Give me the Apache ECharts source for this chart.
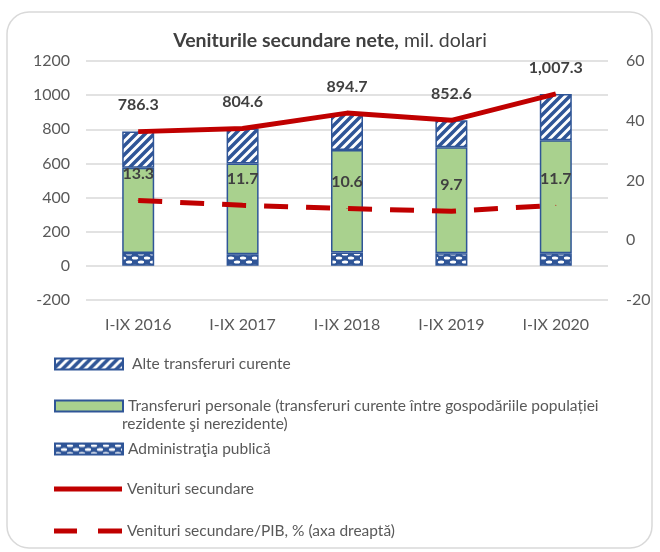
<!DOCTYPE html>
<html>
<head>
<meta charset="utf-8">
<script src="https://cdn.jsdelivr.net/npm/echarts@6/dist/echarts.min.js"></script>
<style>
  html, body { margin: 0; padding: 0; background: #fff; }
  #main { width: 660px; height: 552px; }
</style>
</head>
<body>
<div id="main"></div>
<script>
// Veniturile secundare nete, mil. dolari
var categories = ['I-IX 2016', 'I-IX 2017', 'I-IX 2018', 'I-IX 2019', 'I-IX 2020'];
var administratie = [76, 68, 78, 74, 74];
var transferuriPersonale = [498, 531, 600, 621, 662];
var alteTransferuri = [212.3, 205.6, 216.7, 157.6, 271.3];
var venituriSecundare = [786.3, 804.6, 894.7, 852.6, 1007.3];
var venituriPib = [13.3, 11.7, 10.6, 9.7, 11.7];

var leftTicks = [-200, 1200, 200];   // min, max, interval
var rightTicks = [-20, 60, 20];

var BLUE = '#2F5597';
var RED = '#C00000';
var GREY = '#595959';
var FONT = 'Lato, "Open Sans", sans-serif';

// hasura pentru "Alte transferuri curente"
function stripePattern() {
    var c = document.createElement('canvas');
    c.width = 9; c.height = 9;
    var g = c.getContext('2d');
    g.fillStyle = '#fff';
    g.fillRect(0, 0, 9, 9);
    g.strokeStyle = BLUE;
    g.lineWidth = 3.5;
    g.beginPath();
    g.moveTo(-2, 11); g.lineTo(11, -2);
    g.moveTo(-6.5, 6.5); g.lineTo(6.5, -6.5);
    g.moveTo(2.5, 15.5); g.lineTo(15.5, 2.5);
    g.stroke();
    return c;
}
// hasura pentru "Administratia publica"
function wavePattern() {
    var c = document.createElement('canvas');
    c.width = 12; c.height = 8;
    var g = c.getContext('2d');
    g.fillStyle = BLUE;
    g.fillRect(0, 0, 12, 8);
    g.fillStyle = '#fff';
    g.beginPath();
    g.ellipse(3, 2, 3.2, 1.6, 0, 0, Math.PI * 2);
    g.fill();
    g.beginPath();
    g.ellipse(9, 6, 3.2, 1.6, 0, 0, Math.PI * 2);
    g.fill();
    return c;
}

var nameAlte = 'Alte transferuri curente';
var namePers = 'Transferuri personale (transferuri curente între gospodăriile populației rezidente şi nerezidente)';
var nameAdm = 'Administraţia publică';
var nameVen = 'Venituri secundare';
var namePib = 'Venituri secundare/PIB, % (axa dreaptă)';

var myChart = echarts.init(document.getElementById('main'));

var legendText = { color: GREY, fontSize: 15.5, fontFamily: FONT };
function oneLegend(name, top, w, h, icon, fmt) {
    var l = {
        data: [icon ? { name: name, icon: icon } : name],
        left: 49, top: top,
        itemWidth: w, itemHeight: h,
        selectedMode: false,
        textStyle: legendText
    };
    if (fmt) l.formatter = fmt;
    return l;
}

var labelStyle = {
    show: true,
    position: 'top',
    distance: 18,
    color: '#404040',
    fontSize: 16,
    fontWeight: 'bold',
    fontFamily: FONT
};

var option = {
    backgroundColor: '#fff',
    animation: false,
    title: {
        text: '{b|Veniturile secundare nete,}{n| mil. dolari}',
        left: 'center',
        top: 26,
        textStyle: {
            rich: {
                b: { fontFamily: FONT, fontSize: 19.5, fontWeight: 'bold', color: '#404040' },
                n: { fontFamily: FONT, fontSize: 19.5, fontWeight: 'normal', color: '#404040' }
            }
        }
    },
    legend: [
        oneLegend(nameAlte, 351, 68, 11, 'rect', function (n) { return ' ' + n; }),
        oneLegend(namePers, 393, 68, 11, 'rect', function () {
            return 'Transferuri personale (transferuri curente între gospodăriile populației';
        }),
        oneLegend(nameAdm, 436, 68, 11, 'rect'),
        oneLegend(nameVen, 476, 68, 5, 'rect'),
        oneLegend(namePib, 518, 68, 5, 'path://M0,0h23v5h-23z M44,0h24v5h-24z')
    ],
    graphic: [
        {
            type: 'rect',
            shape: { x: 7, y: 12, width: 645, height: 536, r: 22 },
            style: { fill: 'none', stroke: '#D9D9D9', lineWidth: 1.5 },
            silent: true
        },
        {
            type: 'text',
            left: 122, top: 416,
            style: { text: 'rezidente şi nerezidente)', fill: GREY, fontSize: 15.5, fontFamily: FONT }
        }
    ],
    grid: { left: 86, right: 52, top: 61, bottom: 252 },
    xAxis: {
        type: 'category',
        data: categories,
        axisLine: { show: false },
        axisTick: { show: false },
        axisLabel: { color: GREY, fontSize: 16, fontFamily: FONT, margin: 17 }
    },
    yAxis: [
        {
            type: 'value',
            min: leftTicks[0], max: leftTicks[1], interval: leftTicks[2],
            axisLine: { show: false },
            axisTick: { show: false },
            axisLabel: {
                color: GREY, fontSize: 16, fontFamily: FONT, margin: 16,
                formatter: function (v) { return String(v); }
            },
            splitLine: { lineStyle: { color: '#D9D9D9', width: 1.5 } }
        },
        {
            type: 'value',
            min: rightTicks[0], max: rightTicks[1], interval: rightTicks[2],
            axisLine: { show: false },
            axisTick: { show: false },
            axisLabel: { color: GREY, fontSize: 16, fontFamily: FONT, margin: 18 },
            splitLine: { show: false }
        }
    ],
    series: [
        {
            name: nameAdm,
            type: 'bar',
            stack: 'v',
            barWidth: 32,
            data: administratie,
            itemStyle: {
                color: { image: wavePattern(), repeat: 'repeat' },
                borderColor: BLUE, borderWidth: 1.5
            }
        },
        {
            name: namePers,
            type: 'bar',
            stack: 'v',
            data: transferuriPersonale,
            itemStyle: { color: '#A9D18E', borderColor: BLUE, borderWidth: 1.5 }
        },
        {
            name: nameAlte,
            type: 'bar',
            stack: 'v',
            data: alteTransferuri,
            itemStyle: {
                color: { image: stripePattern(), repeat: 'repeat' },
                borderColor: BLUE, borderWidth: 1.5
            }
        },
        {
            name: nameVen,
            type: 'line',
            data: venituriSecundare,
            showSymbol: true,
            symbol: 'circle',
            symbolSize: 1,
            itemStyle: { color: RED },
            lineStyle: { color: RED, width: 5 },
            label: Object.assign({}, labelStyle, {
                formatter: function (p) {
                    return p.value.toLocaleString('en-US', { minimumFractionDigits: 1, maximumFractionDigits: 1 });
                }
            }),
            z: 5
        },
        {
            name: namePib,
            type: 'line',
            yAxisIndex: 1,
            data: venituriPib,
            showSymbol: true,
            symbol: 'circle',
            symbolSize: 1,
            itemStyle: { color: RED },
            lineStyle: { color: RED, width: 5, type: [24, 18] },
            label: Object.assign({}, labelStyle, {
                formatter: function (p) { return p.value.toFixed(1); }
            }),
            z: 5
        }
    ]
};

myChart.setOption(option);
</script>
</body>
</html>
